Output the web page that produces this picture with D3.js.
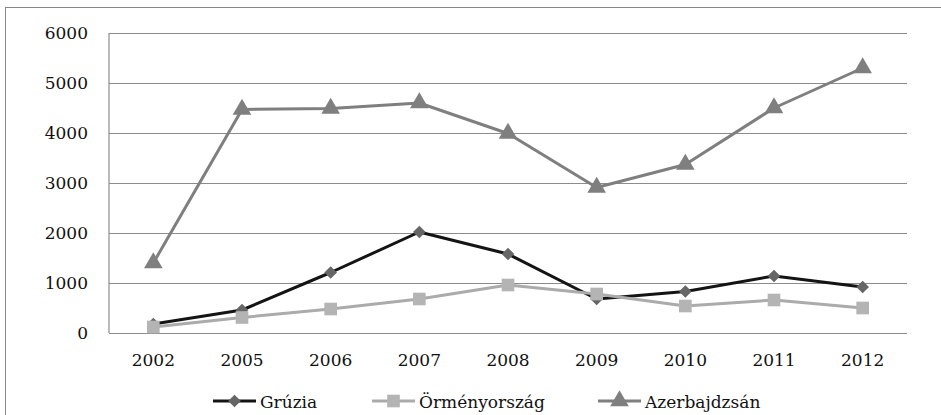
<!DOCTYPE html>
<html>
<head>
<meta charset="utf-8">
<script src="https://cdn.jsdelivr.net/npm/d3@7"></script>
<style>
  body { margin: 0; background: #fff; }
  svg { display: block; }
</style>
</head>
<body>
<div id="chart"></div>
<script>
// data
const years = ["2002", "2005", "2006", "2007", "2008", "2009", "2010", "2011", "2012"];
const grúzia = [180, 460, 1210, 2020, 1580, 680, 830, 1140, 920];
const örmény = [120, 310, 480, 680, 960, 780, 540, 660, 500];
const azer = [1400, 4470, 4490, 4600, 3990, 2910, 3370, 4500, 5300];
const seriesNames = ["Grúzia", "Örményország", "Azerbajdzsán"];
const yTicks = [0, 1000, 2000, 3000, 4000, 5000, 6000];

const FONT = "DejaVu Serif";

// set the dimensions and margins of the graph
const W = 941, H = 415;
const margin = { top: 33, right: 34, bottom: 82, left: 109 },
  width = W - margin.left - margin.right,
  height = H - margin.top - margin.bottom;

const root = d3.select("#chart")
  .append("svg")
  .attr("width", W)
  .attr("height", H)
  .attr("font-family", FONT);

// outer chart border
root.append("rect")
  .attr("x", 5.5).attr("y", 7.5)
  .attr("width", 960).attr("height", 430)
  .attr("fill", "none")
  .attr("stroke", "#888")
  .attr("stroke-width", 1);

const svg = root.append("g")
  .attr("transform", `translate(${margin.left},${margin.top})`);

const x = d3.scaleBand().domain(years).range([0, width]).padding(0);
const y = d3.scaleLinear().domain([0, 6000]).range([height, 0]);

// Y axis with gridlines
const yAxis = svg.append("g")
  .call(d3.axisLeft(y).tickValues(yTicks).tickSize(-width).tickPadding(21).tickFormat(d3.format("d")))
  .attr("font-family", FONT);
yAxis.select(".domain").remove();
yAxis.selectAll(".tick line").attr("stroke", "#8c8c8c").attr("stroke-width", 1.2);
yAxis.selectAll("text")
  .style("font-size", "17px")
  .attr("fill", "#111");

// vertical axis line on the left
svg.append("line")
  .attr("x1", 0).attr("x2", 0)
  .attr("y1", 0).attr("y2", height)
  .attr("stroke", "#8c8c8c").attr("stroke-width", 1.2);

// X axis labels
const xAxis = svg.append("g")
  .attr("transform", `translate(0,${height})`)
  .call(d3.axisBottom(x).tickSize(0).tickPadding(21))
  .attr("font-family", FONT);
xAxis.select(".domain").remove();
xAxis.selectAll("text")
  .style("font-size", "17px")
  .attr("fill", "#111");

const series = [
  { name: seriesNames[0], values: grúzia, line: "#141414", marker: "#666", shape: d3.symbolSquare, size: 80, rot: 45 },
  { name: seriesNames[1], values: örmény, line: "#ababab", marker: "#b4b4b4", shape: d3.symbolSquare, size: 160, rot: 0 },
  { name: seriesNames[2], values: azer, line: "#7f7f7f", marker: "#7f7f7f", shape: d3.symbolTriangle, size: 150, rot: 0 }
];

const cx = d => x(d) + x.bandwidth() / 2;

const line = d3.line()
  .x((d, i) => cx(years[i]))
  .y(d => y(d));

series.forEach(s => {
  svg.append("path")
    .datum(s.values)
    .attr("fill", "none")
    .attr("stroke", s.line)
    .attr("stroke-width", 3)
    .attr("stroke-linejoin", "round")
    .attr("d", line);

  svg.selectAll(null)
    .data(s.values)
    .enter()
    .append("path")
    .attr("d", d3.symbol().type(s.shape).size(s.size))
    .attr("transform", (d, i) => `translate(${cx(years[i])},${y(d)}) rotate(${s.rot})`)
    .attr("fill", s.marker);
});

// legend
const legendX = [213, 372, 598];
const legendY = 401;
const legend = root.append("g");
series.forEach((s, i) => {
  const g = legend.append("g").attr("transform", `translate(${legendX[i]},${legendY})`);
  g.append("line")
    .attr("x1", 0).attr("x2", 43)
    .attr("stroke", s.line).attr("stroke-width", 3);
  g.append("path")
    .attr("d", d3.symbol().type(s.shape).size(s.size))
    .attr("transform", `translate(21.5,0) rotate(${s.rot})`)
    .attr("fill", s.marker);
  g.append("text")
    .attr("x", 47).attr("y", 7)
    .style("font-size", "17px")
    .attr("fill", "#111")
    .text(s.name);
});
</script>
</body>
</html>
